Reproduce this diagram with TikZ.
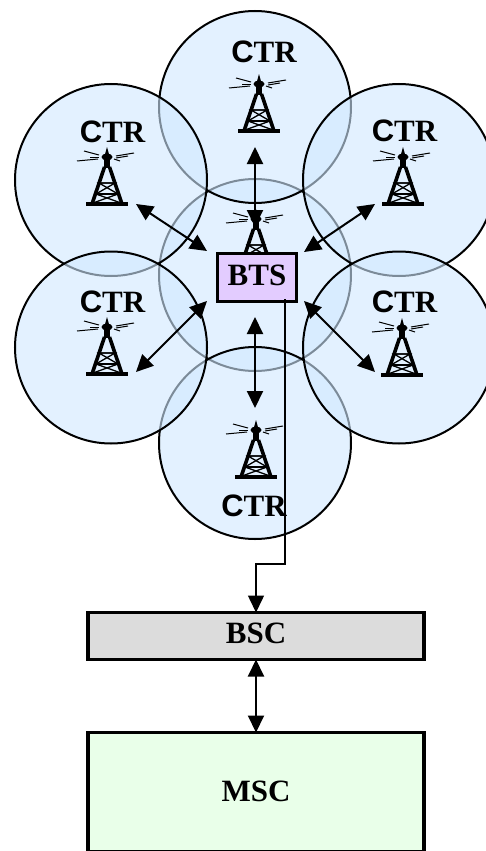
\documentclass[tikz,border=0pt]{standalone}
\usepackage{fontspec}
\setmainfont{Liberation Serif}
\newfontfamily\ctrsans{Liberation Sans}
\usetikzlibrary{arrows.meta}
\definecolor{cellblue}{HTML}{D0E8FF}
\definecolor{btslilac}{HTML}{E3CCFF}
\definecolor{bscgray}{HTML}{DCDCDC}
\definecolor{mscgreen}{HTML}{E9FFE9}
\newcommand{\ctrname}{{\ctrsans C}TR}
\tikzset{
  cell/.style={circle,draw=black,line width=2pt,fill=cellblue,fill opacity=0.6,
    minimum size=192pt,inner sep=0pt,outer sep=0pt},
  ctrlabel/.style={font=\bfseries\fontsize{31}{31}\selectfont,inner sep=0pt},
  unitbox/.style={draw=black,line width=3.4pt,inner sep=0pt,outer sep=0pt,
    text depth=5pt,font=\bfseries\fontsize{31}{31}\selectfont},
  link/.style={line width=2pt,{Triangle[length=17pt,width=16pt]}-{Triangle[length=17pt,width=16pt]}},
  wire/.style={line width=1.5pt,-{Triangle[length=17pt,width=16pt]}},
  tower/.pic={
    \fill (-21,-4) rectangle (21,0);
    \draw[line width=3.6pt] (-2.5,-39) -- (-15,-2);
    \draw[line width=3.6pt] (2.5,-39) -- (15,-2);
    \draw[line width=1.3pt] (-8,-23) -- (8,-23) -- (-11,-12) -- (14,-3);
    \draw[line width=1.3pt] (8,-23) -- (-8,-23) -- (11,-12) -- (-14,-3);
    \draw[line width=1.3pt] (-11,-12) -- (11,-12);
    \fill (0,-59) -- (2.5,-50) -- (-2.5,-50) -- cycle;
    \fill (0,-49) ellipse (5.5pt and 3.5pt);
    \fill (-3,-47) rectangle (3,-38);
    \draw[line width=1pt] (-23,-55) -- (-8,-51);
    \draw[line width=1pt] (-30,-45) -- (-9,-47);
    \draw[line width=1pt] (-17,-49) -- (-8,-49);
    \draw[line width=1pt] (27,-53) -- (9,-50);
    \draw[line width=1pt] (21,-50) -- (9,-48);
    \draw[line width=1pt] (13,-45) -- (7,-47);
  }
}
\begin{document}
\begin{tikzpicture}[x=1pt,y=-1pt]
\useasboundingbox (0,0) rectangle (486,851);

\node[cell] (cellC) at (255,275) {};
\node[cell] (cellN) at (255,107) {};
\node[cell] (cellS) at (255,443) {};
\node[cell] (cellNW) at (111,180) {};
\node[cell] (cellNE) at (399,180) {};
\node[cell] (cellSW) at (111,347.5) {};
\node[cell] (cellSE) at (399,347.5) {};

\pic at (259,133) {tower};
\pic at (107,206) {tower};
\pic at (403,206) {tower};
\pic at (256,268) {tower};
\pic at (107,376) {tower};
\pic at (402,377) {tower};
\pic at (256,479) {tower};

\node[ctrlabel] (ctrN) at (264,52) {\ctrname};
\node[ctrlabel] (ctrNW) at (112.5,132) {\ctrname};
\node[ctrlabel] (ctrNE) at (404.5,131) {\ctrname};
\node[ctrlabel] (ctrSW) at (112.5,302) {\ctrname};
\node[ctrlabel] (ctrSE) at (404.5,302) {\ctrname};
\node[ctrlabel] (ctrS) at (254,506) {\ctrname};

\node[unitbox,fill=btslilac,minimum width=79pt,minimum height=48pt] (bts) at (257,277.5) {BTS};
\node[unitbox,fill=bscgray,minimum width=336pt,minimum height=47pt] (bsc) at (256,636) {BSC};
\node[unitbox,fill=mscgreen,text depth=2pt,minimum width=336pt,minimum height=119.5pt] (msc) at (256,792.25) {MSC};

\coordinate (endN) at (255,147);
\coordinate (btsN) at (255,227);
\coordinate (endS) at (255,408);
\coordinate (btsS) at (255,317);
\coordinate (endNW) at (136,204);
\coordinate (btsNW) at (207,251);
\coordinate (endNE) at (375,204);
\coordinate (btsNE) at (304,252);
\coordinate (endSW) at (136,372);
\coordinate (btsSW) at (207,301);
\coordinate (endSE) at (375,372);
\coordinate (btsSE) at (304,301);
\coordinate (wireStart) at (285,299);
\coordinate (wireKnee) at (256,564);

\draw[link] (endN) -- (btsN);
\draw[link] (endS) -- (btsS);
\draw[link] (endNW) -- (btsNW);
\draw[link] (endNE) -- (btsNE);
\draw[link] (endSW) -- (btsSW);
\draw[link] (endSE) -- (btsSE);
\draw[wire] (wireStart) |- (wireKnee) -- (bsc.north);
\draw[link] (bsc.south) -- (msc.north);
\end{tikzpicture}
\end{document}
